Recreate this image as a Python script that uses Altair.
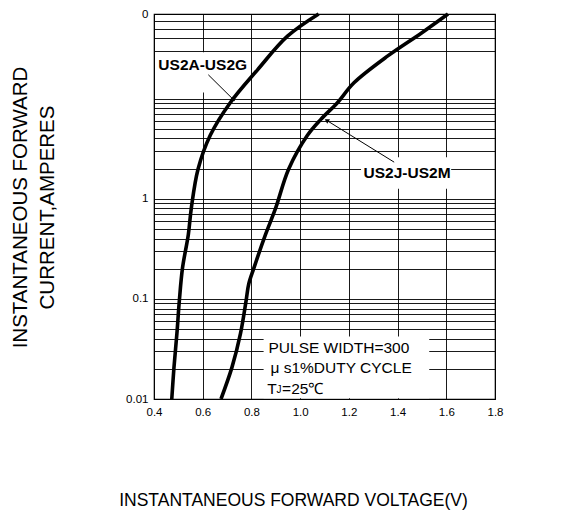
import altair as alt
import pandas as pd

# ---- data ----
v_a = [0.473, 0.482, 0.494, 0.504, 0.517, 0.541, 0.553, 0.581, 0.631, 0.713, 0.825, 0.948, 1.076]
i_a = [0.01, 0.0207, 0.045, 0.0955, 0.203, 0.44, 0.80, 1.98, 4.3, 9.1, 19.4, 42, 70]
v_j = [0.675, 0.720, 0.755, 0.778, 0.789, 0.810, 0.858, 0.899, 0.953, 1.03, 1.085, 1.153, 1.221, 1.360, 1.497, 1.607]
i_j = [0.01, 0.0207, 0.045, 0.0955, 0.141, 0.203, 0.44, 0.80, 1.98, 4.3, 6.2, 9.1, 14.4, 26.7, 45, 70]

x_ticks = [0.4, 0.6, 0.8, 1.0, 1.2, 1.4, 1.6, 1.8]
y_vals = [0.01, 0.02, 0.03, 0.04, 0.05, 0.06, 0.07, 0.08, 0.09,
          0.1, 0.2, 0.3, 0.4, 0.5, 0.6, 0.7, 0.8, 0.9,
          1, 2, 3, 4, 5, 6, 7, 8, 9,
          10, 30, 40, 50, 60, 70]

# label positions (voltage, current)
lab_text = ["US2A-US2G", "US2J-US2M"]
lab_v = [0.60, 1.439]
lab_i = [21.7, 1.81]

note_text = ["PULSE WIDTH=300", "\u03bc s1%DUTY CYCLE", "T", "=25\u2103"]
note_v = [0.870, 0.878, 0.865, 0.926]
note_i = [0.032, 0.0203, 0.01256, 0.01256]
sub_text = ["J"]
sub_v = [0.903]
sub_i = [0.0122]

arrow_v = [0.623, 1.386]
arrow_i = [17.3, 2.32]
arrow_v2 = [0.726, 1.109]
arrow_i2 = [9.78, 6.06]
arrow_ang = [135, 302]

box_v = [0.42, 1.25, 0.85]
box_v2 = [0.75, 1.62, 1.53]
box_i = [11.5, 1.26, 0.0102]
box_i2 = [29.0, 2.6, 0.042]

FONT = "Liberation Sans"

curves = pd.DataFrame({
    "v": v_a + v_j,
    "i": i_a + i_j,
    "s": ["A"] * len(v_a) + ["J"] * len(v_j),
    "k": list(range(len(v_a))) + list(range(len(v_j))),
})
labels = pd.DataFrame({"v": lab_v, "i": lab_i, "t": lab_text})
notes = pd.DataFrame({"v": note_v, "i": note_i, "t": note_text})
subs = pd.DataFrame({"v": sub_v, "i": sub_i, "t": sub_text})
arrows = pd.DataFrame({"v": arrow_v, "i": arrow_i, "v2": arrow_v2, "i2": arrow_i2, "ang": arrow_ang})
heads = pd.DataFrame({"v": arrow_v2, "i": arrow_i2, "ang": arrow_ang})
boxes = pd.DataFrame({"v": box_v, "v2": box_v2, "i": box_i, "i2": box_i2})

xs = alt.Scale(domain=[0.4, 1.8], nice=False, zero=False)
ys = alt.Scale(type="log", domain=[0.01, 70], nice=False)

xaxis = alt.Axis(
    values=x_ticks, format=".1f", grid=True, gridColor="black", gridWidth=0.9,
    ticks=False, domain=False, labelFont=FONT, labelFontSize=11.5, labelColor="black",
    labelPadding=7, labelFlush=False, labelOverlap=False,
    title="INSTANTANEOUS FORWARD VOLTAGE(V)", titleFont=FONT, titleFontSize=17.5,
    titleFontWeight="normal", titleColor="black", titleX=139, titleY=101,
    titleAlign="center", titleBaseline="middle",
)
yaxis = alt.Axis(
    values=y_vals, grid=True, gridColor="black", gridWidth=0.9,
    ticks=False, domain=False, labelFont=FONT, labelFontSize=11.5, labelColor="black",
    labelPadding=6, labelOverlap=False, labelFlush=False,
    labelExpr="datum.value == 0.01 ? '0.01' : datum.value == 0.1 ? '0.1' : datum.value == 1 ? '1' : datum.value == 70 ? '0' : ''",
    title=["INSTANTANEOUS FORWARD", "CURRENT,AMPERES"], titleFont=FONT, titleFontSize=20.5,
    titleFontWeight="normal", titleColor="black", titleAngle=270, titleX=-144,
    titleY=193, titleAlign="center", titleBaseline="top", titleLineHeight=27,
)

X = alt.X("v:Q", scale=xs, axis=xaxis)
Y = alt.Y("i:Q", scale=ys, axis=yaxis)

rects = alt.Chart(boxes).mark_rect(color="white").encode(x=X, x2="v2:Q", y=Y, y2="i2:Q")

lines = alt.Chart(curves).mark_line(color="black", strokeWidth=3.6, interpolate="catmull-rom").encode(
    x=X, y=Y, detail="s:N", order="k:Q"
)

arrow_lines = alt.Chart(arrows).mark_rule(color="black", strokeWidth=1).encode(
    x=X, y=Y, x2="v2:Q", y2="i2:Q"
)
arrow_heads = alt.Chart(heads).mark_point(shape="triangle-up", filled=True, size=28, color="black", opacity=1).encode(
    x=X, y=Y, angle=alt.Angle("ang:Q", scale=None)
)

label_marks = alt.Chart(labels).mark_text(font=FONT, fontSize=15.5, fontWeight="bold", color="black",
                                          align="center", baseline="middle").encode(x=X, y=Y, text="t:N")
note_marks = alt.Chart(notes).mark_text(font=FONT, fontSize=15.5, color="black",
                                        align="left", baseline="middle").encode(x=X, y=Y, text="t:N")
sub_marks = alt.Chart(subs).mark_text(font=FONT, fontSize=10, color="black",
                                      align="left", baseline="middle").encode(x=X, y=Y, text="t:N")

chart = alt.layer(rects, lines, arrow_lines, arrow_heads, label_marks, note_marks, sub_marks).properties(
    width=341, height=385,
    padding={"left": 146, "top": 6, "right": 76, "bottom": 111},
    autosize=alt.AutoSizeParams(type="none"),
    background="white",
).configure_view(stroke="black", strokeWidth=1.2)

chart.save("out.html", embed_options={"renderer": "svg", "actions": False})
